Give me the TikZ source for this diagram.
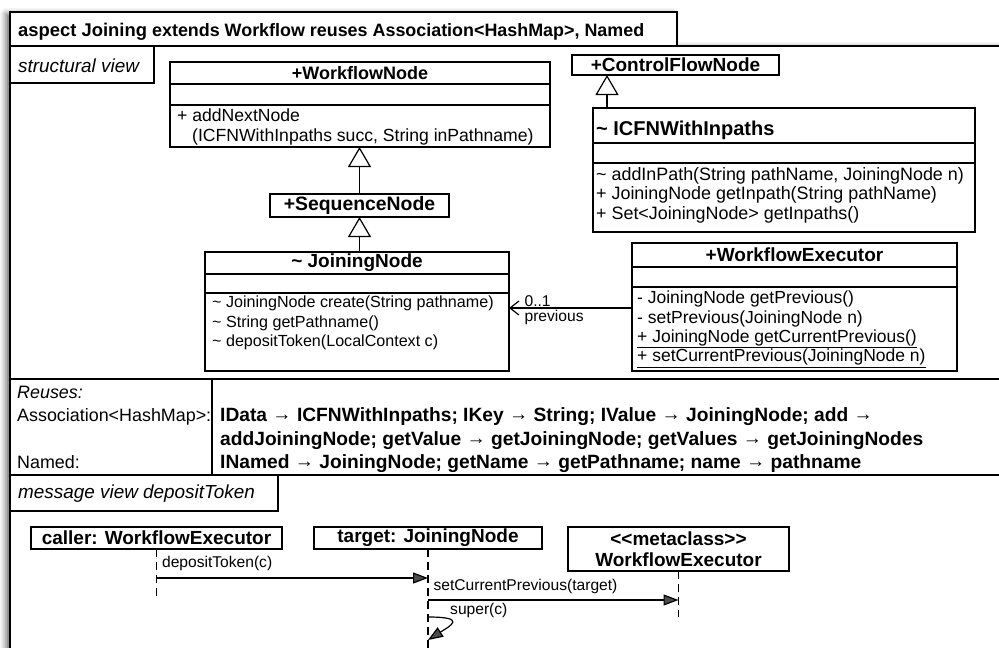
\documentclass[tikz,border=0pt]{standalone}
\usepackage{fontspec}
\setmainfont{Liberation Sans}
\usetikzlibrary{arrows.meta,positioning,shadows.blur}

\newcommand{\bindto}{\raisebox{1pt}{→}}

\tikzset{
  frameline/.style={line width=1.4pt},
  tabtext/.style={anchor=base west, inner sep=0pt, font=\itshape\fontsize{18.9}{22}\selectfont},
  classbox/.style={draw, line width=1.2pt, anchor=north west, inner sep=0pt, outer sep=0pt},
  classname/.style={font=\bfseries\fontsize{19}{21}\selectfont},
  ops/.style={anchor=north west, inner sep=0pt, align=left,
    font=\fontsize{17.6}{19.5}\selectfont, execute at begin node=\strut},
  reuse/.style={anchor=base west, inner sep=0pt, font=\fontsize{17.9}{20}\selectfont},
  binding/.style={anchor=base west, inner sep=0pt, font=\bfseries\fontsize{19.2}{23.5}\selectfont},
  generalize/.style={line width=1.2pt, -{Triangle[open, length=20pt, width=23pt, fill=white]}},
  assoc/.style={line width=1.2pt, -{Straight Barb[length=9pt, width=14pt]}},
  lifeline/.style={line width=1.2pt, dash pattern=on 8pt off 5pt},
  msg/.style={line width=1.2pt, -{Triangle[length=15pt, width=11pt]}},
  msgtext/.style={anchor=base west, inner sep=0pt, font=\fontsize{15.6}{18}\selectfont},
}

\begin{document}
\begin{tikzpicture}[x=1pt, y=-1pt]
  \useasboundingbox (0,0) rectangle (999,648);

  % aspect frame and its tabs
  \fill[white, blur shadow={shadow xshift=-4pt, shadow yshift=-2pt, shadow blur radius=6pt, shadow opacity=60}]
    (10,670) -- (10,12) -- (677,12) -- (677,46) -- (1020,46) -- (1020,670) -- cycle;
  \draw[frameline] (10,670) -- (10,12) -- (677,12) -- (677,46);
  \draw[frameline] (10,46) -- (1020,46);
  \node[anchor=base west, inner sep=0pt, font=\bfseries\fontsize{18.4}{22}\selectfont] (title) at (18,36)
    {aspect Joining {\fontsize{17.9}{20}\selectfont extends Workflow reuses Association<HashMap>, Named}};

  \draw[frameline] (10,83) -- (154,83) -- (154,46);
  \node[tabtext] (structview) at (18,72) {structural view};

  % +WorkflowNode
  \node[classbox, classname, font=\bfseries\fontsize{18}{21}\selectfont, minimum width=380pt, minimum height=22pt]
    (wfn) at (170,62) {+WorkflowNode};
  \node[classbox, minimum width=380pt, minimum height=21pt] (wfn-attr) at (wfn.south west) {};
  \node[classbox, minimum width=380pt, minimum height=42pt] (wfn-ops) at (wfn-attr.south west) {};
  \node[ops, below right=4pt and 7pt of wfn-ops.north west] (wfn-optext)
    {+ addNextNode\\\hspace{15pt}(ICFNWithInpaths succ, String inPathname)};

  % +ControlFlowNode
  \node[classbox, classname, minimum width=207pt, minimum height=20pt] (cfn) at (572,55) {+ControlFlowNode};

  % ~ ICFNWithInpaths
  \node[classbox, minimum width=382pt, minimum height=35pt] (icfn) at (593,108) {};
  \node[classname, anchor=west, inner sep=0pt, font=\bfseries\fontsize{20}{22}\selectfont,
    right=3pt of icfn.west, yshift=-4.5pt] (icfn-name) {\textasciitilde{} ICFNWithInpaths};
  \node[classbox, minimum width=382pt, minimum height=20pt] (icfn-attr) at (icfn.south west) {};
  \node[classbox, minimum width=382pt, minimum height=69pt] (icfn-ops) at (icfn-attr.south west) {};
  \node[ops, font=\fontsize{17.9}{19.8}\selectfont, below right=4pt and 3pt of icfn-ops.north west] (icfn-optext)
    {\textasciitilde{} addInPath(String pathName, JoiningNode n)\\
     + JoiningNode getInpath(String pathName)\\
     + Set<JoiningNode> getInpaths()};

  % +SequenceNode
  \node[classbox, classname, font=\bfseries\fontsize{19.4}{21}\selectfont, minimum width=179pt, minimum height=23pt]
    (seq) at (270,194) {+SequenceNode};

  % ~ JoiningNode
  \node[classbox, classname, minimum width=304pt, minimum height=22pt] (jn) at (205,252) {\textasciitilde{} JoiningNode};
  \node[classbox, minimum width=304pt, minimum height=19pt] (jn-attr) at (jn.south west) {};
  \node[classbox, minimum width=304pt, minimum height=78pt] (jn-ops) at (jn-attr.south west) {};
  \node[ops, font=\fontsize{16.1}{19.5}\selectfont, below right=3pt and 7pt of jn-ops.north west] (jn-optext)
    {\textasciitilde{} JoiningNode create(String pathname)\\
     \textasciitilde{} String getPathname()\\
     \textasciitilde{} depositToken(LocalContext c)};

  % +WorkflowExecutor
  \node[classbox, classname, minimum width=325pt, minimum height=24pt] (wfe) at (632,243) {+WorkflowExecutor};
  \node[classbox, minimum width=325pt, minimum height=20pt] (wfe-attr) at (wfe.south west) {};
  \node[classbox, minimum width=325pt, minimum height=84pt] (wfe-ops) at (wfe-attr.south west) {};
  \node[ops, font=\fontsize{17.5}{19.3}\selectfont, below right=4pt and 5pt of wfe-ops.north west] (wfe-optext)
    {- JoiningNode getPrevious()\\
     - setPrevious(JoiningNode n)\\
     \underline{+ JoiningNode getCurrentPrevious()}\\
     \underline{+ setCurrentPrevious(JoiningNode n)}};

  % generalizations and the association
  \draw[generalize] (seq) -- (seq |- wfn-ops.south);
  \draw[generalize] (jn.north -| seq) -- (seq);
  \coordinate (icfn-top) at ([xshift=14pt]icfn.north west);
  \draw[generalize] (icfn-top) -- (icfn-top |- cfn.south);
  \draw[assoc] ([yshift=21pt]wfe-ops.west) -- ([yshift=21pt]wfe-ops.west -| jn-ops.east)
    node[msgtext, pos=1, xshift=15pt, yshift=2pt] (mult) {0..1}
    node[msgtext, pos=1, xshift=15pt, yshift=-13pt] (role) {previous};

  % reuse bindings
  \draw[frameline] (10,379) -- (1020,379);
  \draw[frameline] (10,475) -- (1020,475);
  \draw[frameline] (212,379) -- (212,475);
  \node[reuse, font=\itshape\fontsize{17.9}{20}\selectfont] (reuses) at (17,398) {Reuses:};
  \node[reuse] (assoc-name) at (17,421) {Association<HashMap>:};
  \node[reuse] (named-name) at (17,468) {Named:};
  \node[binding] (bind-a) at (220,421)
    {IData \bindto{} ICFNWithInpaths; IKey \bindto{} String; IValue \bindto{} JoiningNode; add \bindto};
  \node[binding] (bind-b) at (220,445)
    {addJoiningNode; getValue \bindto{} getJoiningNode; getValues \bindto{} getJoiningNodes};
  \node[binding] (bind-c) at (220,468)
    {INamed \bindto{} JoiningNode; getName \bindto{} getPathname; name \bindto{} pathname};

  % message view
  \draw[frameline] (10,511) -- (278,511) -- (278,475);
  \node[tabtext] (msgview) at (18,498) {message view depositToken};

  \node[classbox, classname, minimum width=251pt, minimum height=22pt] (caller) at (31,527) {caller: WorkflowExecutor};
  \node[classbox, classname, minimum width=228pt, minimum height=22pt] (target) at (314,527) {target: JoiningNode};
  \node[classbox, classname, align=center, minimum width=221pt, minimum height=44pt,
    font=\bfseries\fontsize{19}{21}\selectfont] (meta) at (568,527) {<\kern0pt<metaclass>\kern0pt>\\WorkflowExecutor};

  \coordinate (caller-end) at (157,596);
  \coordinate (target-end) at (428,660);
  \coordinate (meta-end) at (678,617);
  \draw[lifeline] (caller.south) -- (caller.south |- caller-end);
  \draw[lifeline] (target.south) -- (target.south |- target-end);
  \draw[lifeline] (meta.south) -- (meta.south |- meta-end);

  \draw[msg] ([yshift=-29pt]caller.south) -- ([yshift=-29pt]caller.south -| target.south)
    node[msgtext, pos=0, xshift=5pt, yshift=11pt] (m-deposit) {depositToken(c)};
  \draw[msg] ([yshift=-51pt]target.south) -- ([yshift=-51pt]target.south -| meta.south)
    node[msgtext, pos=0, xshift=5pt, yshift=10pt] (m-setprev) {setCurrentPrevious(target)};
  \draw[msg] ([yshift=-68pt]target.south) .. controls +(40,0) and +(22,-14) .. ([yshift=-91pt]target.south);
  \node[msgtext] (m-super) at (450,614) {super(c)};
\end{tikzpicture}
\end{document}
